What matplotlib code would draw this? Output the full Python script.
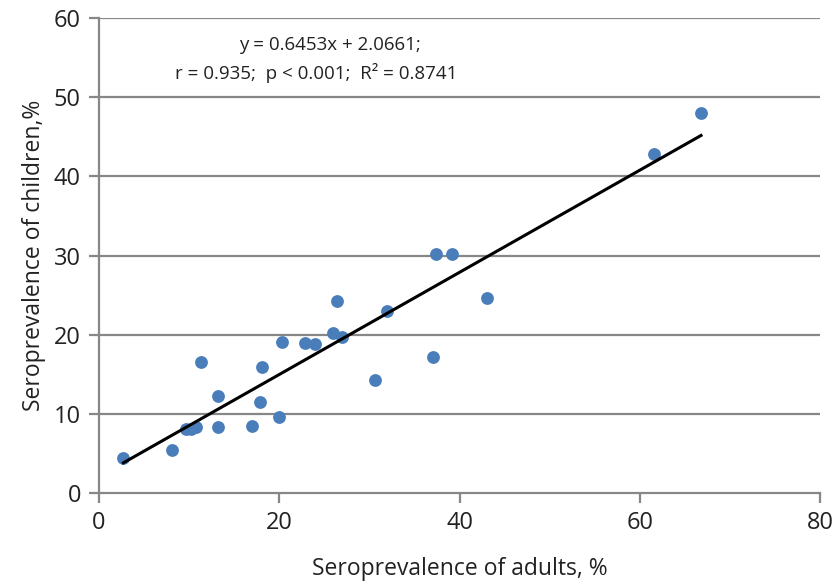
from matplotlib import pyplot as plt
import numpy as np

# seroprevalence values (%)
adults = [2.7, 8.1, 11.3, 9.7, 10.2, 10.8, 13.2, 13.2, 17.0, 17.9, 18.1, 20.0,
          20.3, 22.9, 24.0, 26.4, 26.0, 27.0, 30.6, 32.0, 37.4, 39.2, 37.1,
          43.0, 61.6, 66.8]
children = [4.4, 5.4, 16.5, 8.1, 8.1, 8.3, 12.2, 8.3, 8.5, 11.5, 15.9, 9.6,
            19.1, 18.9, 18.8, 24.2, 20.2, 19.7, 14.3, 23.0, 30.2, 30.2, 17.2,
            24.7, 42.8, 48.0]

slope = 0.6453
intercept = 2.0661
eq_line1 = 'y = 0.6453x + 2.0661;'
eq_line2 = 'r = 0.935;  p < 0.001;  R² = 0.8741'

plt.rcParams['font.family'] = ['Open Sans', 'DejaVu Sans']

fig = plt.figure(figsize=(8.35, 5.85), dpi=100)
ax = fig.add_axes([0.1186, 0.1573, 0.8634, 0.8117])

grid_col = '#878787'
for yv in range(10, 61, 10):
    ax.axhline(yv, color=grid_col, lw=1.6, zorder=0)

ax.scatter(adults, children, s=85, color='#4A7EBB', zorder=3, linewidths=0)

xs = np.array([min(adults), max(adults)])
ax.plot(xs, slope * xs + intercept, color='black', lw=2.2, zorder=4)

ax.text(25.6, 56.6, eq_line1, ha='center', va='center', fontsize=13.5, color='#222222')
ax.text(24.1, 53.1, eq_line2, ha='center', va='center', fontsize=13.5, color='#222222')

ax.set_xlim(0, 80)
ax.set_ylim(0, 60)
ax.set_xticks(range(0, 81, 20))
ax.set_yticks(range(0, 61, 10))
for s in ['top', 'right']:
    ax.spines[s].set_visible(False)
for s in ['left', 'bottom']:
    ax.spines[s].set_color(grid_col)
    ax.spines[s].set_linewidth(1.6)
ax.tick_params(colors=grid_col, width=1.6, length=7, labelsize=17, labelcolor='#222222', pad=6)

ax.set_xlabel('Seroprevalence of adults, %', fontsize=16.5, color='#222222', labelpad=16)
ax.set_ylabel('Seroprevalence of children,%', fontsize=16.5, color='#222222', labelpad=6)

fig.savefig('out.png', dpi=100)
